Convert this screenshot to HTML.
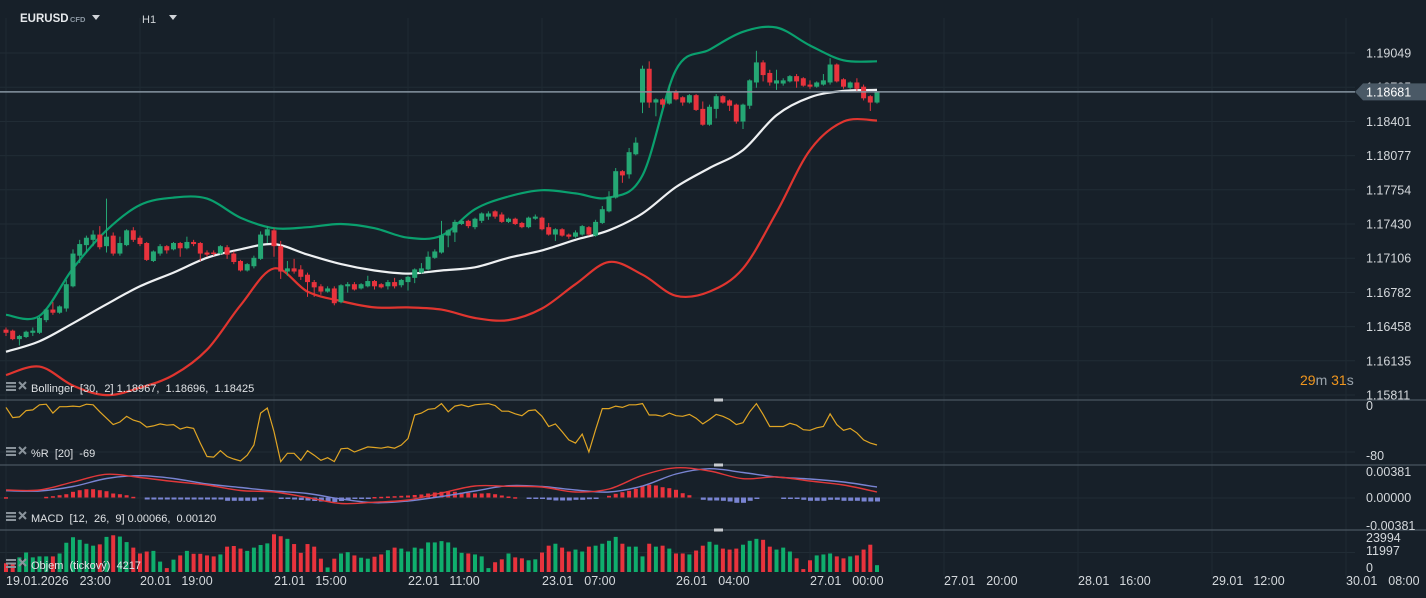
<!DOCTYPE html>
<html><head><meta charset="utf-8">
<style>
html,body{margin:0;padding:0;background:#172029;overflow:hidden}
svg{display:block;font-family:"Liberation Sans",sans-serif}
</style></head>
<body>
<svg id="chart" width="1426" height="598" viewBox="0 0 1426 598" xmlns="http://www.w3.org/2000/svg">
<rect x="0" y="0" width="1426" height="598" fill="#172029"/>
<g id="grid"></g>
<g id="price"></g>
<g id="wpr"></g>
<g id="macd"></g>
<g id="vol"></g>
<g id="axes"></g>
<g>
<text x="20" y="22" fill="#e6e9ec" font-size="11.5" font-weight="bold">EURUSD</text>
<text x="70" y="22" fill="#8b97a2" font-size="7.5" font-weight="bold">CFD</text>
<path d="M92 15 L100 15 L96 20 Z" fill="#d0d4d8"/>
<text x="142" y="23" fill="#d0d4d8" font-size="11">H1</text>
<path d="M169 15 L177 15 L173 20 Z" fill="#d0d4d8"/>
</g>
</svg>
<script>
const openP=[1.1643,1.1642,1.1634,1.1636,1.1640,1.1640,1.1652,1.1662,1.1659,1.1663,1.1684,1.1713,1.1723,1.1728,1.1733,1.1722,1.1732,1.1715,1.1723,1.1737,1.1730,1.1725,1.1708,1.1715,1.1722,1.1719,1.1725,1.1720,1.1726,1.1725,1.1716,1.1716,1.1715,1.1721,1.1715,1.1708,1.1699,1.1703,1.1710,1.1732,1.1737,1.1722,1.1698,1.1701,1.1700,1.1695,1.1688,1.1684,1.1679,1.1682,1.1669,1.1684,1.1686,1.1682,1.1684,1.1689,1.1686,1.1684,1.1688,1.1685,1.1688,1.1692,1.1697,1.1700,1.1711,1.1716,1.1732,1.1735,1.1743,1.1746,1.1740,1.1746,1.1750,1.1755,1.1752,1.1745,1.1748,1.1744,1.1740,1.1748,1.1749,1.1740,1.1733,1.1738,1.1733,1.1731,1.1733,1.1740,1.1732,1.1744,1.1755,1.1768,1.1793,1.1790,1.1809,1.1858,1.1890,1.1858,1.1861,1.1857,1.1868,1.1863,1.1858,1.1865,1.1852,1.1837,1.1852,1.1864,1.1860,1.1856,1.1840,1.1855,1.1877,1.1896,1.1886,1.1876,1.1876,1.1878,1.1883,1.1881,1.1875,1.1873,1.1875,1.1877,1.1894,1.1880,1.1872,1.1877,1.1873,1.1864,1.1858];
const closeP=[1.1640,1.1634,1.1637,1.1641,1.1642,1.1654,1.1662,1.1659,1.1665,1.1686,1.1715,1.1724,1.1730,1.1733,1.1721,1.1731,1.1715,1.1725,1.1737,1.1728,1.1724,1.1709,1.1717,1.1722,1.1718,1.1725,1.1720,1.1726,1.1724,1.1715,1.1714,1.1715,1.1722,1.1714,1.1707,1.1699,1.1705,1.1711,1.1733,1.1738,1.1722,1.1698,1.1701,1.1698,1.1693,1.1688,1.1683,1.1679,1.1682,1.1668,1.1685,1.1686,1.1681,1.1686,1.1689,1.1684,1.1683,1.1688,1.1684,1.1690,1.1693,1.1700,1.1701,1.1712,1.1717,1.1732,1.1737,1.1745,1.1746,1.1741,1.1748,1.1753,1.1753,1.1750,1.1745,1.1748,1.1743,1.1740,1.1749,1.1750,1.1738,1.1733,1.1738,1.1732,1.1731,1.1735,1.1741,1.1733,1.1745,1.1757,1.1769,1.1793,1.1789,1.1811,1.1820,1.1890,1.1858,1.1861,1.1856,1.1868,1.1861,1.1858,1.1865,1.1851,1.1837,1.1854,1.1864,1.1858,1.1855,1.1840,1.1856,1.1879,1.1896,1.1884,1.1877,1.1879,1.1879,1.1883,1.1878,1.1874,1.1873,1.1877,1.1879,1.1894,1.1878,1.1873,1.1877,1.1871,1.1862,1.1858,1.1868];
const highP=[1.1645,1.1643,1.1638,1.1642,1.1645,1.1655,1.1663,1.1669,1.1666,1.1690,1.1719,1.1728,1.1732,1.1737,1.1741,1.1767,1.1735,1.1731,1.1738,1.1740,1.1732,1.1726,1.1718,1.1724,1.1723,1.1726,1.1726,1.1731,1.1728,1.1726,1.1718,1.1718,1.1723,1.1723,1.1717,1.1709,1.1706,1.1713,1.1736,1.1741,1.1739,1.1727,1.1708,1.1710,1.1704,1.1697,1.1690,1.1686,1.1684,1.1684,1.1686,1.1688,1.1688,1.1687,1.1694,1.1690,1.1687,1.1690,1.1692,1.1691,1.1694,1.1701,1.1706,1.1717,1.1719,1.1746,1.1738,1.1747,1.1747,1.1747,1.1749,1.1754,1.1755,1.1756,1.1754,1.1749,1.1749,1.1745,1.1750,1.1752,1.1750,1.1744,1.1739,1.1739,1.1734,1.1737,1.1742,1.1741,1.1747,1.1760,1.1774,1.1796,1.1794,1.1815,1.1825,1.1893,1.1897,1.1862,1.1862,1.1875,1.1870,1.1864,1.1866,1.1866,1.1859,1.1856,1.1866,1.1865,1.1861,1.1857,1.1857,1.1880,1.1907,1.1898,1.1889,1.1889,1.1881,1.1884,1.1885,1.1882,1.1879,1.1878,1.1885,1.1900,1.1895,1.1881,1.1878,1.1881,1.1875,1.1865,1.1869];
const lowP=[1.1637,1.1633,1.1628,1.1635,1.1637,1.1639,1.1650,1.1657,1.1658,1.1660,1.1683,1.1706,1.1716,1.1722,1.1719,1.1716,1.1713,1.1713,1.1722,1.1726,1.1722,1.1708,1.1707,1.1713,1.1715,1.1718,1.1712,1.1719,1.1722,1.1708,1.1712,1.1713,1.1714,1.1710,1.1705,1.1698,1.1698,1.1701,1.1709,1.1725,1.1712,1.1691,1.1694,1.1696,1.1690,1.1674,1.1674,1.1676,1.1678,1.1666,1.1668,1.1678,1.1680,1.1681,1.1683,1.1681,1.1682,1.1681,1.1682,1.1683,1.1680,1.1687,1.1696,1.1699,1.1710,1.1715,1.1721,1.1726,1.1742,1.1739,1.1738,1.1744,1.1747,1.1748,1.1744,1.1744,1.1742,1.1739,1.1739,1.1747,1.1737,1.1732,1.1727,1.1731,1.1729,1.1730,1.1732,1.1732,1.1731,1.1743,1.1754,1.1767,1.1782,1.1786,1.1808,1.1848,1.1853,1.1845,1.1853,1.1856,1.1860,1.1855,1.1857,1.1850,1.1836,1.1836,1.1843,1.1857,1.1850,1.1838,1.1833,1.1852,1.1872,1.1878,1.1874,1.1870,1.1874,1.1877,1.1872,1.1873,1.1871,1.1872,1.1874,1.1875,1.1877,1.1871,1.1871,1.1869,1.1860,1.1850,1.1857];
const volume=[5400,5400,9000,12000,9000,9600,9600,9600,11400,18000,21400,19800,17400,16200,17000,21600,22600,21800,18400,15000,11400,12600,13000,6400,2400,7600,10200,13000,11200,11200,10200,9600,10800,15600,16000,14400,13000,15000,16600,17600,23200,22000,20400,17200,11800,17200,15600,8200,2800,8200,11400,12200,10200,8800,8200,9400,10800,13400,15000,14400,12600,15000,14400,18200,18200,19000,18200,15000,11800,11400,10800,9600,2400,6000,7800,11400,9000,8400,7200,7800,12000,16200,17400,15000,12600,13800,12600,15600,16200,17400,19200,21600,17400,15600,15600,9600,17400,15600,16200,14400,11400,11400,10800,13200,16200,18600,16800,14400,13800,14400,16800,19200,20400,19800,15600,13800,15000,12600,8400,1800,7200,10200,10800,11400,9600,8400,9600,10200,13800,16800,4200];
const wprValues=[-10,-26,-25,-15,-14,-6,-5,-19,-9,-9,-8,-9,-5,-6,-17,-27,-37,-33,-24,-30,-33,-41,-39,-36,-38,-37,-44,-41,-43,-66,-87,-88,-78,-87,-91,-94,-85,-69,-19,-11,-48,-95,-82,-82,-93,-78,-85,-93,-89,-95,-75,-74,-80,-76,-72,-73,-74,-72,-74,-69,-59,-22,-19,-13,-12,-4,-17,-8,-6,-9,-6,-5,-4,-7,-16,-16,-20,-23,-15,-14,-24,-40,-36,-48,-61,-66,-52,-80,-45,-12,-12,-8,-10,-6,-6,-4,-22,-22,-24,-19,-23,-24,-21,-27,-36,-29,-21,-24,-29,-37,-34,-17,-4,-21,-40,-40,-40,-35,-38,-45,-46,-42,-40,-20,-37,-46,-43,-50,-61,-66,-69];
const macdHist=[0.3,0,0,0,0,0,0.7,1.3,2.3,3.3,5.7,7.3,8.3,8.3,7.3,6.3,4,3.3,2.3,0.7,0,-2,-2,-2,-2,-2,-2,-2,-2,-2,-2,-2,-2,-3.3,-3.3,-3.3,-3.3,-3.3,-2,0,0,-1,-1.3,-2,-2.5,-3,-3.5,-4,-4.5,-4.5,-3.5,-2,-1.3,-1.3,-1,0.5,0.7,1,1.3,1.7,2,2.5,3,4,5,5.7,6.3,5.7,5,4.7,4,4,4.3,3.3,2,1,0.3,0,-0.7,-1.3,-1.3,-2.3,-3,-3,-3,-2.3,-2.3,-1.7,-0.7,0,1.7,3.7,5.3,6.7,8.7,12,12.7,12,10.3,9.3,7.7,4.3,2.3,0,-2.3,-3,-3,-3.3,-4,-5.3,-5.3,-3.3,-1.3,0,0,0,-1.3,-1.3,-1.3,-2.3,-3.3,-3.3,-3.3,-2.3,-2.3,-3.3,-3.3,-3.3,-4,-4,-4];
// sampled every 5 candles (index 0,5,...,130)
const bandStep=5;
const bbUpper=[1.1657,1.1656,1.1701,1.1737,1.1761,1.1768,1.1767,1.1749,1.1739,1.1740,1.1743,1.1739,1.1730,1.1732,1.1757,1.1769,1.1775,1.1772,1.1768,1.1789,1.1889,1.1908,1.1925,1.1929,1.1912,1.1898,1.1897];
const bbMiddle=[1.1622,1.1632,1.1649,1.1667,1.1684,1.1697,1.1711,1.1719,1.1724,1.1714,1.1705,1.1699,1.1696,1.1699,1.1702,1.1711,1.1718,1.1728,1.1737,1.1753,1.1778,1.1796,1.1813,1.1846,1.1863,1.1869,1.1870];
const bbLower=[1.1600,1.1608,1.1590,1.1581,1.1588,1.1600,1.1624,1.1666,1.1701,1.1679,1.1670,1.1664,1.1664,1.1662,1.1654,1.1652,1.1663,1.1686,1.1707,1.1695,1.1675,1.1679,1.1701,1.1754,1.1813,1.1840,1.1841];
const macdLine=[0.00115,0.00115,0.00230,0.00341,0.00295,0.00237,0.00187,0.00108,0.00086,0.00007,-0.00079,-0.00060,-0.00029,0.00072,0.00173,0.00168,0.00158,0.00086,0.00129,0.00326,0.00434,0.00388,0.00278,0.00302,0.00244,0.00187,0.00086];
const signalLine=[0.00105,0.00101,0.00165,0.00280,0.00321,0.00280,0.00201,0.00151,0.00101,0.00065,-0.00014,-0.00068,-0.00043,0.00022,0.00101,0.00177,0.00165,0.00115,0.00086,0.00173,0.00345,0.00421,0.00367,0.00302,0.00273,0.00230,0.00158];
const priceTicks=[1.19049,1.18725,1.18401,1.18077,1.17754,1.17430,1.17106,1.16782,1.16458,1.16135,1.15811];
const timeLabels=[["19.01.2026","23:00"],["20.01","19:00"],["21.01","15:00"],["22.01","11:00"],["23.01","07:00"],["26.01","04:00"],["27.01","00:00"],["27.01","20:00"],["28.01","16:00"],["29.01","12:00"],["30.01","08:00"]];
const lastPrice=1.18681;

const NS="http://www.w3.org/2000/svg";
function mk(tag,attrs,parent){const e=document.createElementNS(NS,tag);for(const k in attrs)e.setAttribute(k,attrs[k]);parent.appendChild(e);return e;}
const X0=6,DX=6.7,PLOT_R=1355;
const xAt=i=>X0+i*DX;
const yPrice=p=>53+(1.19049-p)*10562;
const yWpr=v=>401-v*0.6375;
const yMacd=v=>498-v/0.0001438;
const yHist=v=>497.5-v;
const yVol=v=>572-v/23994*39;
const GREEN="#25a774",RED="#e8333d";

const grid=document.getElementById('grid');
priceTicks.forEach((p,k)=>{const l=mk('line',{x1:0,x2:PLOT_R,y1:yPrice(p),y2:yPrice(p),stroke:'#212c35','stroke-width':1},grid);

});
[-80].forEach(v=>{const l=mk('line',{x1:0,x2:PLOT_R,y1:yWpr(v),y2:yWpr(v),stroke:'#212c35'},grid);

});
[0].forEach(v=>{const l=mk('line',{x1:0,x2:PLOT_R,y1:yMacd(v),y2:yMacd(v),stroke:'#212c35'},grid);

});
[11997].forEach(v=>{const l=mk('line',{x1:0,x2:PLOT_R,y1:yVol(v),y2:yVol(v),stroke:'#212c35'},grid);

});
timeLabels.forEach((t,k)=>{const x=6+134*k;const l=mk('line',{x1:x,x2:x,y1:18,y2:576,stroke:'#1f2a33'},grid);

});

[400,465,530].forEach(y=>{const l=mk('line',{x1:0,x2:1426,y1:y,y2:y,stroke:'#4a5560','stroke-width':1.3},grid);


const h=mk('rect',{x:714,y:y-1.5,width:9,height:3,fill:'#c8ccd0'},grid);

});

function smoothPath(pts){let d=`M${pts[0][0]} ${pts[0][1]}`;for(let i=0;i<pts.length-1;i++){const p0=pts[Math.max(0,i-1)],p1=pts[i],p2=pts[i+1],p3=pts[Math.min(pts.length-1,i+2)];
const c1x=p1[0]+(p2[0]-p0[0])/6,c1y=p1[1]+(p2[1]-p0[1])/6,c2x=p2[0]-(p3[0]-p1[0])/6,c2y=p2[1]-(p3[1]-p1[1])/6;
d+=` C${c1x.toFixed(1)} ${c1y.toFixed(1)} ${c2x.toFixed(1)} ${c2y.toFixed(1)} ${p2[0].toFixed(1)} ${p2[1].toFixed(1)}`;}return d;}
function linePath(pts){return pts.map((p,i)=>(i?'L':'M')+p[0].toFixed(1)+' '+p[1].toFixed(1)).join(' ');}

const price=document.getElementById('price');
const clip=mk('clipPath',{id:'pclip'},price);mk('rect',{x:0,y:18,width:1426,height:381},clip);
const pg=mk('g',{'clip-path':'url(#pclip)'},price);
const bands=[[bbLower,'#e0352f','bollinger-lower'],[bbUpper,'#0aa06e','bollinger-upper'],[bbMiddle,'#eef0f2','bollinger-middle']];
bands.forEach(([arr,col,name])=>{const p=mk('path',{d:smoothPath(arr.map((v,k)=>[xAt(k*bandStep),yPrice(v)])),fill:'none',stroke:col,'stroke-width':2.2},pg);

});
closeP.forEach((c,i)=>{const o=openP[i],up=c>=o,col=up?GREEN:RED,x=xAt(i);
const g=mk('g',{},pg);


mk('line',{x1:x,x2:x,y1:yPrice(highP[i]),y2:yPrice(lowP[i]),stroke:col,'stroke-width':1},g);
const t=Math.min(yPrice(o),yPrice(c)),b=Math.max(yPrice(o),yPrice(c));
mk('rect',{x:x-2.5,y:t,width:5,height:Math.max(1.5,b-t),fill:col},g);});
const pl=mk('line',{x1:0,x2:1355,y1:yPrice(lastPrice),y2:yPrice(lastPrice),stroke:'#8795a1','stroke-width':1.5},price);



const wpr=document.getElementById('wpr');
const wp=mk('path',{d:linePath(wprValues.map((v,i)=>[xAt(i),yWpr(v)])),fill:'none',stroke:'#e0a524','stroke-width':1.2},wpr);



const macd=document.getElementById('macd');
macdHist.forEach((h,i)=>{if(h===0)return;const y0=yHist(0),y1=yHist(h);
const r=mk('rect',{x:xAt(i)-2,y:Math.min(y0,y1),width:h>0?4:5,height:Math.max(1.5,Math.abs(y1-y0)),fill:h>0?'#e8333d':'#7984d2'},macd);

});
[[signalLine,'#7984d2','macd-signal-line'],[macdLine,'#e0383a','macd-line']].forEach(([arr,col,name])=>{
const p=mk('path',{d:smoothPath(arr.map((v,k)=>[xAt(k*bandStep),yMacd(v)])),fill:'none',stroke:col,'stroke-width':1.4},macd);

});

const vol=document.getElementById('vol');
volume.forEach((v,i)=>{const up=closeP[i]>=openP[i];
const r=mk('rect',{x:xAt(i)-2,y:yVol(v),width:4,height:572-yVol(v),fill:up?'#0fae6d':'#e8333d'},vol);

});

const axes=document.getElementById('axes');
priceTicks.forEach(p=>{const t=mk('text',{x:1366,y:yPrice(p)+4.5,fill:'#d4d8dc','font-size':12.5},axes);t.textContent=p.toFixed(5);

});
const tagG=mk('g',{},axes);


const yl=yPrice(lastPrice);
mk('path',{d:`M1355 ${yl} L1363 ${yl-8.5} L1438 ${yl-8.5} L1438 ${yl+8.5} L1363 ${yl+8.5} Z`,fill:'#4a5966'},tagG);
const tt=mk('text',{x:1366,y:yl+4.5,fill:'#ffffff','font-size':12.5},tagG);tt.textContent=lastPrice.toFixed(5);
[[0,406],[-80,456]].forEach(([v,y])=>{const t=mk('text',{x:1366,y:y+4,fill:'#d4d8dc','font-size':12.5},axes);t.textContent=String(v);

});
[["0.00381",476],["0.00000",502],["-0.00381",530]].forEach(([s,y])=>{const t=mk('text',{x:1366,y:y,fill:'#d4d8dc','font-size':12.5},axes);t.textContent=s;

});
[["23994",542],["11997",555],["0",572]].forEach(([s,y])=>{const t=mk('text',{x:1366,y:y,fill:'#d4d8dc','font-size':12.5},axes);t.textContent=s;

});
timeLabels.forEach((t,k)=>{const x=6+134*k;const tx=mk('text',{x:x,y:585,fill:'#d4d8dc','font-size':12.5},axes);


const a=mk('tspan',{},tx);a.textContent=t[0];const b=mk('tspan',{dx:'11'},tx);b.textContent=t[1];});

const cd=mk('text',{x:1300,y:385,'font-size':14},axes);


[["29",'#f0961e'],["m\u00a0",'#9aa3ab'],["31",'#f0961e'],["s",'#9aa3ab']].forEach(([s,c])=>{const sp=mk('tspan',{fill:c},cd);sp.textContent=s;});

const NB='\u00a0';
[["Bollinger"+NB+NB+"[30,"+NB+NB+"2]"+NB+"1.18967,"+NB+NB+"1.18696,"+NB+NB+"1.18425",389,'bollinger-legend'],["%R"+NB+NB+"[20]"+NB+NB+"-69",454,'williams-r-legend'],["MACD"+NB+NB+"[12,"+NB+NB+"26,"+NB+NB+"9]"+NB+"0.00066,"+NB+NB+"0.00120",519,'macd-legend'],["Objem"+NB+NB+"(tickový)"+NB+NB+"4217",566,'volume-legend']].forEach(([s,y,name])=>{
const g=mk('g',{},axes);


mk('rect',{x:6,y:y-7,width:10,height:2,fill:'#8a939b'},g);mk('rect',{x:6,y:y-3.5,width:10,height:2,fill:'#8a939b'},g);mk('rect',{x:6,y:y,width:10,height:2,fill:'#8a939b'},g);
mk('path',{d:`M19 ${y-7} L26 ${y} M26 ${y-7} L19 ${y}`,stroke:'#8a939b','stroke-width':2},g);
const t=mk('text',{x:31,y:y+3,fill:'#dfe2e5','font-size':11},g);t.textContent=s;});
</script>
</body></html>
